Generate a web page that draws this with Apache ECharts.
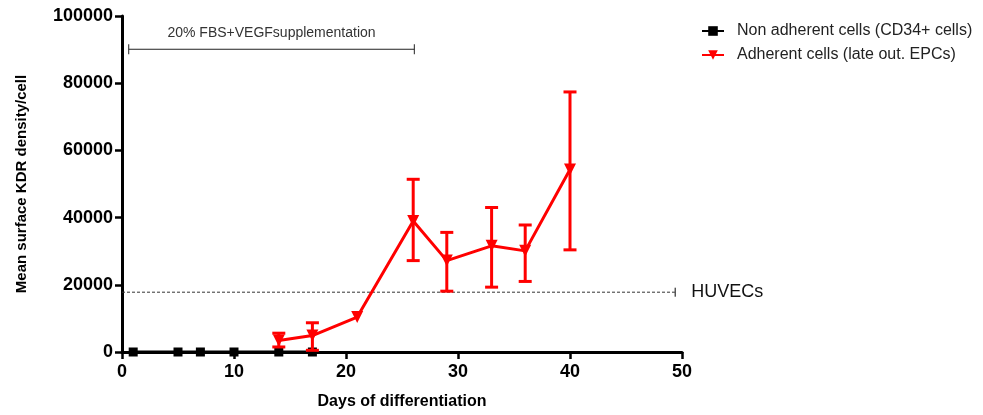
<!DOCTYPE html>
<html>
<head>
<meta charset="utf-8">
<script src="https://cdn.jsdelivr.net/npm/echarts@6/dist/echarts.min.js"></script>
<style>
  html, body { margin: 0; padding: 0; background: #fff; }
  #chart { width: 983px; height: 415px; }
</style>
</head>
<body>
<div id="chart"></div>
<script>
// Days of differentiation for each population
const nonAdherentDays = [1, 5, 7, 10, 14, 17];
const nonAdherentKdr = [0, 0, 0, 0, 0, 0];

const adherentDays = [14, 17, 21, 26, 29, 33, 36, 40];
const adherentKdr = [3400, 4900, 10400, 39000, 27200, 31600, 30100, 54300];
// Error bar bounds (null = no bar drawn)
const adherentLow = [1500, 500, null, 27200, 18100, 19300, 21000, 30400];
const adherentHigh = [5600, 8700, null, 51400, 35600, 43000, 37800, 77400];

// Reference level for HUVECs and the supplementation period
const huvecLevel = 17800;
const huvecSpan = [0, 49.4];
const supplementSpan = [0.6, 26.1];
const supplementLevel = 90100;
const supplementLabel = '20% FBS+VEGFsupplementation';

const xTicks = { min: 0, max: 50, interval: 10 };
const yTicks = { min: 0, max: 100000, interval: 20000 };

const seriesNames = ['Non adherent cells (CD34+ cells)', 'Adherent cells (late out. EPCs)'];

const FONT = '"Liberation Sans", Arial, sans-serif';
const RED = '#ff0000';

const chart = echarts.init(document.getElementById('chart'), null, { renderer: 'canvas' });

const errorData = adherentDays
  .map((d, i) => [d, adherentLow[i], adherentHigh[i]])
  .filter(r => r[1] !== null);

chart.setOption({
  animation: false,
  backgroundColor: '#fff',
  grid: { left: 122, top: 16, right: 301, bottom: 62, containLabel: false },
  legend: {
    orient: 'vertical',
    left: 696,
    top: 18,
    itemWidth: 22,
    itemHeight: 12,
    itemGap: 8,
    data: seriesNames,
    textStyle: { fontFamily: FONT, fontSize: 16, color: '#222', padding: [0, 0, 0, 8] }
  },
  xAxis: {
    type: 'value',
    min: xTicks.min, max: xTicks.max, interval: xTicks.interval,
    name: 'Days of differentiation',
    nameLocation: 'middle',
    nameGap: 42,
    nameTextStyle: { fontFamily: FONT, fontSize: 16, fontWeight: 'bold', color: '#000' },
    axisLine: { onZero: false, lineStyle: { color: '#000', width: 3 } },
    axisTick: { show: true, length: 7, lineStyle: { color: '#000', width: 2.5 } },
    axisLabel: { margin: 11, fontFamily: FONT, fontSize: 18, fontWeight: 'bold', color: '#000' },
    splitLine: { show: false }
  },
  yAxis: {
    type: 'value',
    min: yTicks.min, max: yTicks.max, interval: yTicks.interval,
    name: 'Mean surface KDR density/cell',
    nameLocation: 'middle',
    nameGap: 93,
    nameRotate: 90,
    nameTextStyle: { fontFamily: FONT, fontSize: 15, fontWeight: 'bold', color: '#000' },
    axisLine: { onZero: false, lineStyle: { color: '#000', width: 3 } },
    axisTick: { show: true, length: 7, lineStyle: { color: '#000', width: 2.5 } },
    axisLabel: {
      margin: 9, fontFamily: FONT, fontSize: 18, fontWeight: 'bold', color: '#000',
      formatter: v => String(v)
    },
    splitLine: { show: false }
  },
  series: [
    {
      // HUVEC reference level: dashed line with an end cap and label
      type: 'custom',
      silent: true,
      z: 1,
      data: [[huvecSpan[0], huvecSpan[1], huvecLevel]],
      renderItem: function (params, api) {
        const a = api.coord([api.value(0), api.value(2)]);
        const b = api.coord([api.value(1), api.value(2)]);
        return {
          type: 'group',
          children: [
            { type: 'line', shape: { x1: a[0], y1: a[1], x2: b[0], y2: b[1] },
              style: { stroke: '#333', lineWidth: 1, lineDash: [3, 2] } },
            { type: 'line', shape: { x1: b[0], y1: b[1] - 4.5, x2: b[0], y2: b[1] + 4.5 },
              style: { stroke: '#555', lineWidth: 1.5 } },
            { type: 'text', x: b[0] + 16, y: b[1],
              style: { text: 'HUVECs', fontFamily: FONT, fontSize: 18, fill: '#111',
                       align: 'left', verticalAlign: 'middle' } }
          ]
        };
      }
    },
    {
      // Supplementation period bracket
      type: 'custom',
      silent: true,
      z: 1,
      data: [[supplementSpan[0], supplementSpan[1], supplementLevel]],
      renderItem: function (params, api) {
        const a = api.coord([api.value(0), api.value(2)]);
        const b = api.coord([api.value(1), api.value(2)]);
        return {
          type: 'group',
          children: [
            { type: 'line', shape: { x1: a[0], y1: a[1], x2: b[0], y2: b[1] },
              style: { stroke: '#222', lineWidth: 1 } },
            { type: 'line', shape: { x1: a[0], y1: a[1] - 5, x2: a[0], y2: a[1] + 5 },
              style: { stroke: '#222', lineWidth: 1 } },
            { type: 'line', shape: { x1: b[0], y1: b[1] - 5, x2: b[0], y2: b[1] + 5 },
              style: { stroke: '#222', lineWidth: 1 } },
            { type: 'text', x: (a[0] + b[0]) / 2, y: a[1] - 9,
              style: { text: supplementLabel, fontFamily: FONT, fontSize: 14, fill: '#333',
                       align: 'center', verticalAlign: 'bottom' } }
          ]
        };
      }
    },
    {
      name: seriesNames[0],
      type: 'line',
      z: 3,
      data: nonAdherentDays.map((d, i) => [d, nonAdherentKdr[i]]),
      symbol: 'rect',
      symbolSize: 9,
      showAllSymbol: true,
      itemStyle: { color: '#000' },
      lineStyle: { color: '#000', width: 3 }
    },
    {
      // Error bars for adherent cells
      type: 'custom',
      silent: true,
      z: 4,
      data: errorData,
      renderItem: function (params, api) {
        const x = api.value(0);
        const lo = api.coord([x, api.value(1)]);
        const hi = api.coord([x, api.value(2)]);
        const cap = 6.5;
        const st = { stroke: RED, lineWidth: 3 };
        return {
          type: 'group',
          children: [
            { type: 'line', shape: { x1: lo[0], y1: lo[1], x2: hi[0], y2: hi[1] }, style: st },
            { type: 'line', shape: { x1: hi[0] - cap, y1: hi[1], x2: hi[0] + cap, y2: hi[1] }, style: st },
            { type: 'line', shape: { x1: lo[0] - cap, y1: lo[1], x2: lo[0] + cap, y2: lo[1] }, style: st }
          ]
        };
      }
    },
    {
      name: seriesNames[1],
      type: 'line',
      z: 5,
      data: adherentDays.map((d, i) => [d, adherentKdr[i]]),
      symbol: 'triangle',
      symbolRotate: 180,
      symbolSize: 12,
      showAllSymbol: true,
      itemStyle: { color: RED },
      lineStyle: { color: RED, width: 3 }
    }
  ]
});
</script>
</body>
</html>
